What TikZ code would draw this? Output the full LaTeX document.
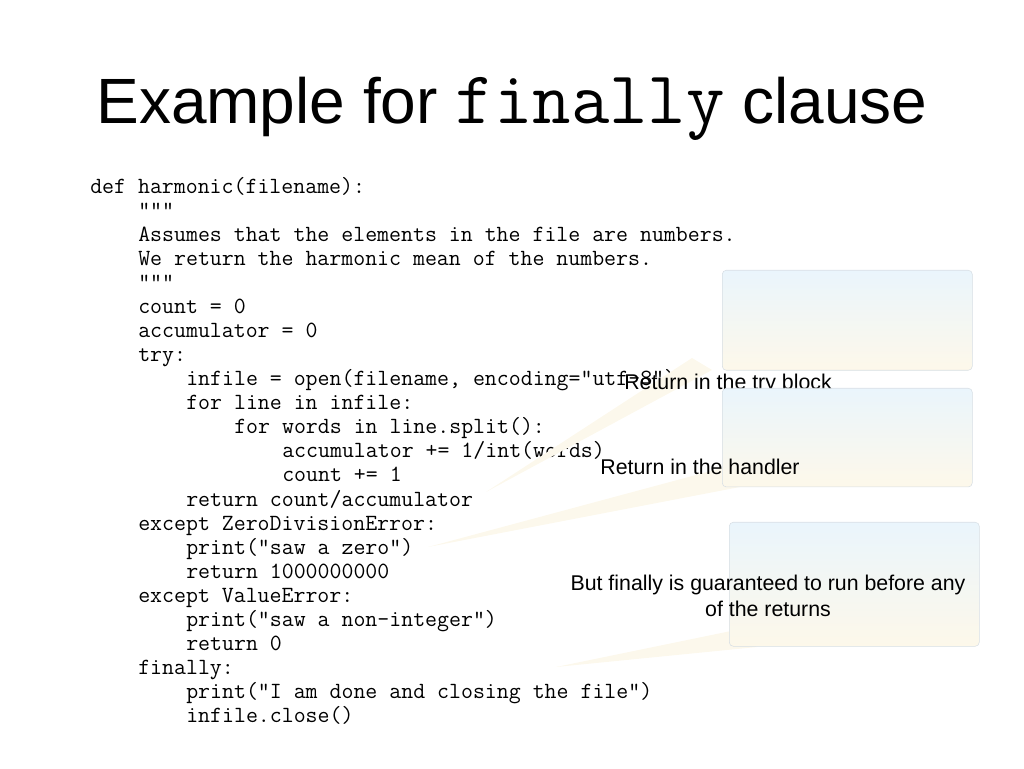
\documentclass[tikz,border=0pt]{standalone}
\usepackage{fontspec}
\setmainfont{Liberation Sans}
\definecolor{boxtop}{RGB}{234,245,252}
\definecolor{boxbot}{RGB}{253,248,234}
\definecolor{tailcol}{RGB}{252,248,236}
\definecolor{boxline}{RGB}{215,222,228}
\tikzset{
  codeline/.style={anchor=base west, inner sep=0pt, font=\fontsize{17.4}{17.4}\selectfont\ttfamily},
  callbox/.style={draw=boxline, line width=0.4pt, rounded corners=3pt, top color=boxtop, bottom color=boxbot},
  calltail/.style={fill=tailcol},
  calltext/.style={font=\fontsize{16}{19}\selectfont, align=center, inner sep=0pt, anchor=base}
}
\begin{document}
\begin{tikzpicture}[x=0.75pt, y=0.75pt]
\useasboundingbox (0,0) rectangle (1024,768);

% title
\node[anchor=base] (title) at (512,644) {\fontsize{48}{48}\selectfont Example for {\fontsize{56}{56}\selectfont\ttfamily finally} clause};

% code lines: indent level / text
\foreach \lvl/\txt [count=\i] in {
  0/{def harmonic(filename):},
  1/{"""},
  1/{Assumes that the elements in the file are numbers.},
  1/{We return the harmonic mean of the numbers.},
  1/{"""},
  1/{count = 0},
  1/{accumulator = 0},
  1/{try:},
  2/{infile = open(filename, encoding="utf-8")},
  2/{for line in infile:},
  3/{for words in line.split():},
  4/{accumulator += 1/int(words)},
  4/{count += 1},
  2/{return count/accumulator},
  1/{except ZeroDivisionError:},
  2/{print("saw a zero")},
  2/{return 1000000000},
  1/{except ValueError:},
  2/{print("saw a non-integer")},
  2/{return 0},
  1/{finally:},
  2/{print("I am done and closing the file")},
  2/{infile.close()}}
  \node[codeline] (line\i) at ({90+48*\lvl},{768-194-24*(\i-1)}) {\txt};

% callout 1
\coordinate (tip1) at (486,276);
\fill[calltail] (692,410) -- (tip1) -- (712,398) -- cycle;
\node[callbox, minimum width=187.5pt, minimum height=75pt, anchor=north west] (box1) at (722,498) {};
\node[calltext] (text1) at (728,378) {Return in the try block};

% callout 2
\coordinate (tip2) at (428,221);
\fill[calltail] (722,300) -- (tip2) -- (740,281) -- cycle;
\node[callbox, minimum width=187.5pt, minimum height=74pt, anchor=north west] (box2) at (722,380) {};
\node[calltext] (text2) at (700,293) {Return in the handler};

% callout 3
\coordinate (tip3) at (556,101);
\fill[calltail] (731,137) -- (tip3) -- (757,121) -- cycle;
\node[callbox, minimum width=187.5pt, minimum height=93pt, anchor=north west] (box3) at (729,246) {};
\node[calltext, anchor=center] (text3) at (768,172) {But finally is guaranteed to run before any\\of the returns};
\end{tikzpicture}
\end{document}
